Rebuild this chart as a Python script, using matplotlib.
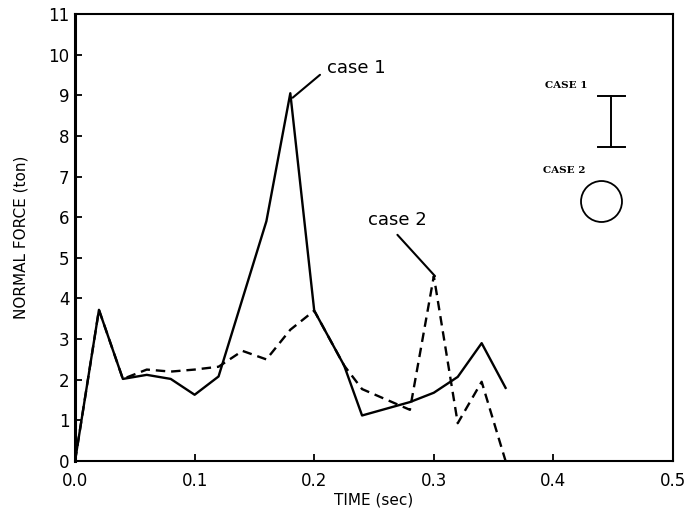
import matplotlib
matplotlib.use("Agg")
import matplotlib.pyplot as plt

# case 1 (solid) and case 2 (dashed)
t_case1 = [0.0, 0.02, 0.04, 0.06, 0.08, 0.10, 0.12, 0.16, 0.18, 0.20, 0.225, 0.24, 0.28, 0.30, 0.32, 0.34, 0.36]
f_case1 = [0.0, 3.72, 2.02, 2.12, 2.02, 1.63, 2.08, 5.9, 9.05, 3.7, 2.35, 1.12, 1.45, 1.68, 2.07, 2.9, 1.8]

t_case2 = [0.0, 0.02, 0.04, 0.06, 0.08, 0.10, 0.12, 0.14, 0.16, 0.18, 0.20, 0.225, 0.24, 0.28, 0.30, 0.32, 0.34, 0.36]
f_case2 = [0.0, 3.72, 2.02, 2.25, 2.2, 2.25, 2.32, 2.71, 2.5, 3.23, 3.7, 2.35, 1.77, 1.26, 4.55, 0.93, 1.95, 0.0]

x_ticks = [0.0, 0.1, 0.2, 0.3, 0.4, 0.5]
y_ticks = list(range(0, 12))

# legend symbols drawn inside the axes
bar_x = 0.4485
bar_top, bar_bot = 8.98, 7.72
bar_half = 0.011
circ_x, circ_y = 0.4395, 6.39

fig = plt.figure(figsize=(6.89, 5.14), dpi=100)
ax = fig.add_axes([0.1089, 0.1031, 0.8679, 0.8697])

ax.plot(t_case1, f_case1, color="black", lw=1.7)
ax.plot(t_case2, f_case2, color="black", lw=1.7, dashes=(4, 2.5))

ax.annotate("case 1", xy=(0.182, 8.94), xytext=(0.2107, 9.68),
            fontsize=13, va="center", ha="left",
            arrowprops=dict(arrowstyle="-", color="black", lw=1.5,
                            shrinkA=0, shrinkB=0, relpos=(-0.12, 0.1)))
ax.annotate("case 2", xy=(0.301, 4.55), xytext=(0.245, 5.92),
            fontsize=13, va="center", ha="left",
            arrowprops=dict(arrowstyle="-", color="black", lw=1.5,
                            shrinkA=0, shrinkB=0, relpos=(0.5, -0.3)))

# "legend"
ax.text(0.393, 9.23, "CASE 1", fontsize=7.5, fontweight="bold",
        family="DejaVu Serif", va="center", ha="left")
ax.text(0.391, 7.16, "CASE 2", fontsize=7.5, fontweight="bold",
        family="DejaVu Serif", va="center", ha="left")
ax.plot([bar_x, bar_x], [bar_bot, bar_top], color="black", lw=1.4)
ax.plot([bar_x - bar_half, bar_x + bar_half], [bar_top, bar_top], color="black", lw=1.4)
ax.plot([bar_x - bar_half, bar_x + bar_half], [bar_bot, bar_bot], color="black", lw=1.4)
ax.plot([circ_x], [circ_y], marker="o", markersize=29.5, mfc="none",
        mec="black", mew=1.3)

ax.set_xlim(0, 0.5)
ax.set_ylim(0, 11)
ax.set_xticks(x_ticks)
ax.set_xticklabels(["%.1f" % v for v in x_ticks])
ax.set_yticks(y_ticks)
ax.tick_params(axis="both", direction="in", length=5, width=1.3, labelsize=12)
ax.tick_params(axis="x", pad=8)
ax.tick_params(axis="y", pad=4)

for s in ax.spines.values():
    s.set_linewidth(1.5)
ax.spines["left"].set_linewidth(2.2)

ax.set_xlabel("TIME (sec)", fontsize=11, labelpad=2)
ax.set_ylabel("NORMAL FORCE (ton)", fontsize=11, labelpad=14)

fig.savefig("out.png", dpi=100)
